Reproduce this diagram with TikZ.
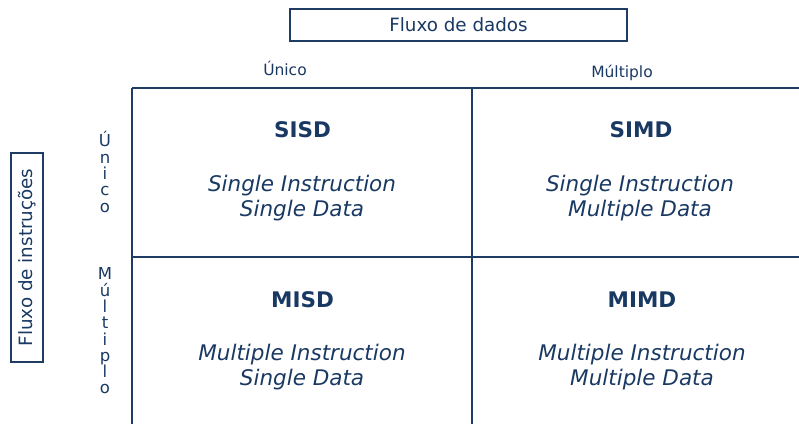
\documentclass[tikz,border=0pt]{standalone}
\usepackage{fontspec}
\setmainfont{DejaVu Sans}
\definecolor{navy}{RGB}{25,57,99}
\definecolor{gridc}{RGB}{31,60,100}
\tikzset{
  x=1pt, y=-1pt,
  gridline/.style={draw=gridc, line width=1.7pt},
  framebox/.style={draw=gridc, line width=1.2pt, fill=white},
  lbl/.style={text=navy, inner sep=0pt, font=\fontsize{15.5}{18}\selectfont},
  vlbl/.style={text=navy, inner sep=0pt, align=center, font=\fontsize{16.5}{16.3}\selectfont},
  head/.style={text=navy, inner sep=0pt, font=\fontsize{18.3}{21}\selectfont},
  title/.style={text=navy, inner sep=0pt, font=\fontsize{21.5}{25}\selectfont\bfseries},
  desc/.style={text=navy, inner sep=0pt, align=center, font=\fontsize{21.5}{25}\selectfont\itshape},
}
\begin{document}
\begin{tikzpicture}
\useasboundingbox (0,0) rectangle (799,424);
% grid
\coordinate (tl) at (132,88);
\coordinate (tr) at (799,88);
\coordinate (ml) at (132,257);
\coordinate (mr) at (799,257);
\coordinate (bl) at (132,424);
\coordinate (tm) at (472,88);
\coordinate (bm) at (472,424);
\draw[gridline] (tl) -- (tr);
\draw[gridline] (ml) -- (mr);
\draw[gridline] (tl) -- (bl);
\draw[gridline] (tm) -- (bm);
% header boxes
\draw[framebox] (290,9) rectangle (627,41);
\node[head] (fd) at (458.5,25) {Fluxo de dados};
\draw[framebox] (11,153) rectangle (43,362);
\node[head, rotate=90] (fi) at (27,257.5) {Fluxo de instruções};
% column labels
\node[lbl, anchor=base] (cu) at (285,75) {Único};
\node[lbl, anchor=base] (cm) at (622,77) {Múltiplo};
% row labels
\node[vlbl] (ru) at (105,172) {Ú\\n\\i\\c\\o};
\node[vlbl] (rm) at (105,331) {M\\ú\\l\\t\\i\\p\\l\\o};
% cells
\node[title] (sisd) at (302.5,130) {SISD};
\node[desc] (sisdd) at (302,198) {Single Instruction\\Single Data};
\node[title] (simd) at (641,130) {SIMD};
\node[desc] (simdd) at (640,198) {Single Instruction\\Multiple Data};
\node[title] (misd) at (302.5,300) {MISD};
\node[desc] (misdd) at (302,367) {Multiple Instruction\\Single Data};
\node[title] (mimd) at (642,300) {MIMD};
\node[desc] (mimdd) at (642,367) {Multiple Instruction\\Multiple Data};
\end{tikzpicture}
\end{document}
